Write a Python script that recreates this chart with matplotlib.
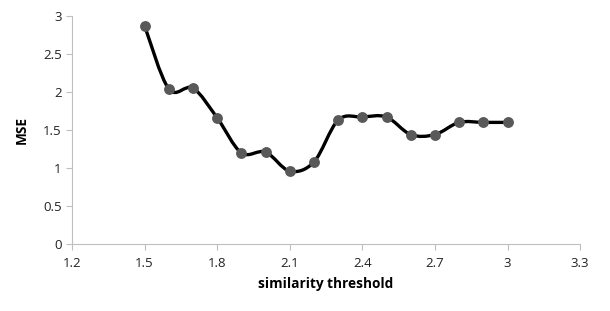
import numpy as np
import matplotlib.pyplot as plt
from matplotlib.path import Path
from matplotlib.patches import PathPatch

threshold = [1.5, 1.6, 1.7, 1.8, 1.9, 2.0, 2.1, 2.2, 2.3, 2.4, 2.5, 2.6, 2.7, 2.8, 2.9, 3.0]
mse = [2.87, 2.04, 2.05, 1.66, 1.20, 1.21, 0.96, 1.08, 1.63, 1.67, 1.67, 1.44, 1.44, 1.60, 1.60, 1.60]

x_ticks = [1.2, 1.5, 1.8, 2.1, 2.4, 2.7, 3.0, 3.3]
x_labels = ['1.2', '1.5', '1.8', '2.1', '2.4', '2.7', '3', '3.3']
y_ticks = [0, 0.5, 1, 1.5, 2, 2.5, 3]
y_labels = ['0', '0.5', '1', '1.5', '2', '2.5', '3']

plt.rcParams['font.family'] = ['Open Sans', 'DejaVu Sans']


def smooth_path(xs, ys, t=1 / 6):
    # Catmull-Rom style bezier, similar to a spreadsheet "smoothed line"
    pts = np.column_stack([xs, ys])
    verts = [pts[0]]
    codes = [Path.MOVETO]
    n = len(pts)
    for i in range(n - 1):
        p0 = pts[i - 1] if i > 0 else pts[i]
        p1, p2 = pts[i], pts[i + 1]
        p3 = pts[i + 2] if i + 2 < n else pts[i + 1]
        c1 = p1 + (p2 - p0) * t
        c2 = p2 - (p3 - p1) * t
        verts += [c1, c2, p2]
        codes += [Path.CURVE4] * 3
    return Path(verts, codes)


fig = plt.figure(figsize=(6.1, 3.11), dpi=100)
ax = fig.add_axes([0.118, 0.215, 0.833, 0.734])

ax.add_patch(PathPatch(smooth_path(threshold, mse), facecolor='none',
                       edgecolor='black', linewidth=2.4, zorder=2))
ax.plot(threshold, mse, linestyle='none', marker='o', markersize=6.8,
        color='#595959', zorder=3)

ax.set_xlim(1.2, 3.3)
ax.set_ylim(0, 3)
ax.set_xticks(x_ticks)
ax.set_xticklabels(x_labels)
ax.set_yticks(y_ticks)
ax.set_yticklabels(y_labels)

for side in ['top', 'right']:
    ax.spines[side].set_visible(False)
for side in ['left', 'bottom']:
    ax.spines[side].set_color('#bfbfbf')
    ax.spines[side].set_linewidth(0.8)

ax.tick_params(axis='both', colors='#bfbfbf', length=4, width=0.8, direction='out')
ax.tick_params(axis='both', labelcolor='#222222', labelsize=9.5)
ax.tick_params(axis='x', pad=5)

ax.set_xlabel('similarity threshold', fontsize=9.8, fontweight='bold', labelpad=5)
ax.set_ylabel('MSE', fontsize=9.8, fontweight='bold', labelpad=10)

fig.savefig('out.png', dpi=100)
